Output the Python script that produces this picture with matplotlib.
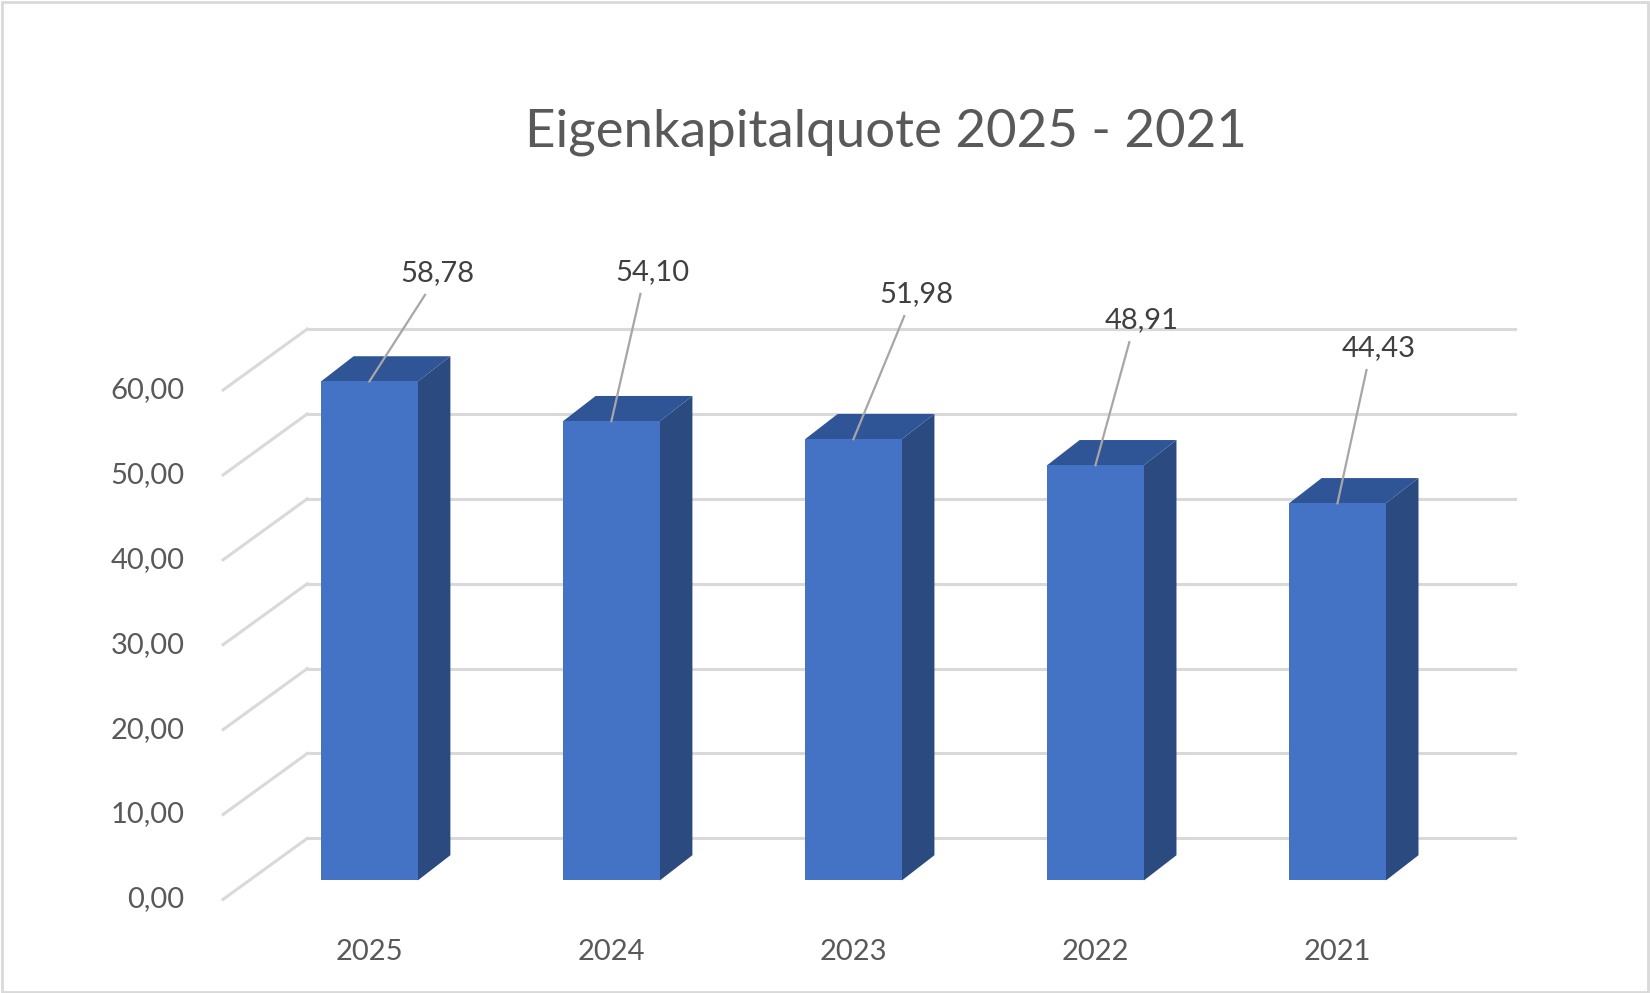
import matplotlib.pyplot as plt
from matplotlib.patches import Polygon, Rectangle

plt.rcParams['font.family'] = ['Lato', 'DejaVu Sans']

years = ['2025', '2024', '2023', '2022', '2021']
quote = [58.78, 54.10, 51.98, 48.91, 44.43]
value_labels = ['58,78', '54,10', '51,98', '48,91', '44,43']
y_ticks = [0, 10, 20, 30, 40, 50, 60]

# label offsets from bar top (x in categories, y in value units)
label_dx = [0.28, 0.17, 0.26, 0.19, 0.17]
label_dy = [12.8, 17.6, 17.1, 17.1, 18.3]

TEXT = '#595959'
GRID = '#d9d9d9'
FRONT, SIDE, TOP = '#4472c4', '#2a4a80', '#2f5597'

PX_X, PX_Y = 230.0, 8.07      # reference pixels per category / per value unit
DEPTH_X, DEPTH_Y = 80 / PX_X, 58 / PX_Y
BAR_W = 0.4
BAR_Z0 = 0.31 * DEPTH_Y
BAR_DX, BAR_DY = 31 / PX_X, 24 / PX_Y
WALL_X0, WALL_X1 = (292 - 351) / PX_X, (1440 - 351) / PX_X
FLOOR_X0 = (212 - 351) / PX_X

fig = plt.figure(figsize=(16.5, 9.93), dpi=100)
ax = fig.add_axes([0, 0, 1, 1])
ax.set_xlim(-351 / PX_X, (1568 - 351) / PX_X)
ax.set_ylim((855 - 944) / PX_Y, 855 / PX_Y)
ax.axis('off')

fig.patches.append(Rectangle((0.001, 0.001), 0.998, 0.997, transform=fig.transFigure,
                             fill=False, edgecolor='#d9d9d9', linewidth=2))

for v in y_ticks:
    ax.plot([WALL_X0, WALL_X1], [v + DEPTH_Y, v + DEPTH_Y], color=GRID, lw=2.2, zorder=1)
    ax.plot([FLOOR_X0, WALL_X0], [v, v + DEPTH_Y], color=GRID, lw=2.2, zorder=1)
    ax.text(FLOOR_X0 - 0.16, v, f'{v},00'.replace('.', ','), ha='right', va='center',
            fontsize=21, color=TEXT)

for i, (val, lab) in enumerate(zip(quote, value_labels)):
    x0, x1 = i - BAR_W / 2, i + BAR_W / 2
    y0, y1 = BAR_Z0, BAR_Z0 + val
    ax.add_patch(Polygon([(x1, y0), (x1 + BAR_DX, y0 + BAR_DY), (x1 + BAR_DX, y1 + BAR_DY), (x1, y1)],
                         facecolor=SIDE, edgecolor='none', zorder=3))
    ax.add_patch(Polygon([(x0, y1), (x1, y1), (x1 + BAR_DX, y1 + BAR_DY), (x0 + BAR_DX, y1 + BAR_DY)],
                         facecolor=TOP, edgecolor='none', zorder=3))
    ax.add_patch(Rectangle((x0, y0), BAR_W, val, facecolor=FRONT, edgecolor='none', zorder=4))
    lx, ly = i + label_dx[i], y1 + label_dy[i]
    ax.plot([i, lx - 0.05], [y1, ly - 2.6], color='#a6a6a6', lw=1.6, zorder=5)
    ax.text(lx, ly, lab, ha='center', va='center', fontsize=21, color='#404040', zorder=6)
    ax.text(i, -6.2, years[i], ha='center', va='center', fontsize=21, color=TEXT)

ax.text(491 / PX_X, (855 - 126) / PX_Y, 'Eigenkapitalquote 2025 - 2021', ha='center', va='center',
        fontsize=38, color=TEXT)

fig.savefig('out.png', dpi=100)
